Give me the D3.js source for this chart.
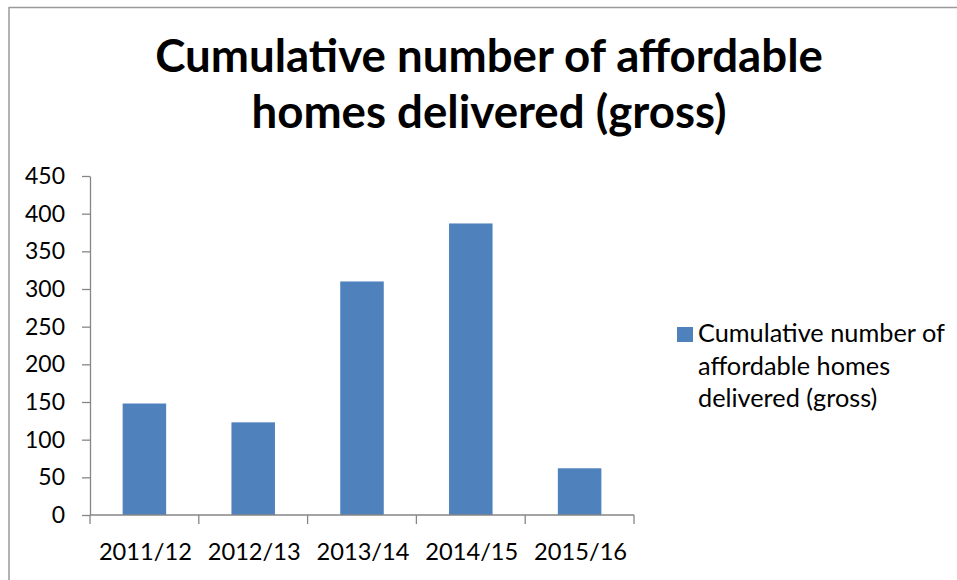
<!DOCTYPE html>
<html>
<head>
<meta charset="utf-8">
<script src="https://cdn.jsdelivr.net/npm/d3@7"></script>
<style>
  html, body { margin: 0; padding: 0; background: #fff; }
  svg { display: block; }
  text { font-family: Lato, "Open Sans", "Liberation Sans", sans-serif; fill: #000; }
</style>
</head>
<body>
<svg id="chart" width="957" height="580"></svg>
<script>
// Chart data
const titleLines = ["Cumulative number of affordable", "homes delivered (gross)"];
const categories = ["2011/12", "2012/13", "2013/14", "2014/15", "2015/16"];
const values = [148, 123, 310, 387, 62];
const yTicks = [0, 50, 100, 150, 200, 250, 300, 350, 400, 450];
const legendLines = ["Cumulative number of", "affordable homes", "delivered (gross)"];

const W = 957, H = 580;
const plot = { left: 90, right: 634, top: 176, bottom: 515 };
const barColor = "#4F81BD";
const axisColor = "#868686";

const svg = d3.select("#chart");

// Resize a text element's font so that its rendered width fits a target
function fitWidth(sel, target) {
  const node = sel.node();
  const fs = parseFloat(sel.attr("font-size"));
  const w = node.getComputedTextLength();
  const nfs = fs * target / w;
  return nfs;
}

// Outer frame: top and left edges of the chart area
svg.append("line").attr("x1", 9).attr("x2", W).attr("y1", 7.5).attr("y2", 7.5)
  .attr("stroke", "#9a9a9a").attr("stroke-width", 1.5);
svg.append("line").attr("x1", 9).attr("x2", 9).attr("y1", 7).attr("y2", H)
  .attr("stroke", "#9a9a9a").attr("stroke-width", 1.5);

const x = d3.scaleBand().domain(categories).range([plot.left, plot.right]).paddingInner(0.6).paddingOuter(0.3);
const y = d3.scaleLinear().domain([0, 450]).range([plot.bottom, plot.top]);

// Bars
svg.append("g").selectAll("rect").data(values).join("rect")
  .attr("x", (d, i) => x(categories[i]))
  .attr("width", x.bandwidth())
  .attr("y", d => y(d))
  .attr("height", d => y(0) - y(d))
  .attr("fill", barColor);

// Y axis
const yAxis = svg.append("g").attr("transform", `translate(${plot.left},0)`)
  .call(d3.axisLeft(y).tickValues(yTicks).tickSize(8).tickPadding(17).tickSizeOuter(0));
yAxis.select(".domain").attr("stroke", axisColor).attr("stroke-width", 1.3);
yAxis.selectAll(".tick line").attr("stroke", axisColor).attr("stroke-width", 1.3);
yAxis.selectAll("text").attr("font-size", 20).attr("font-family", null).attr("fill", "#000");

// X axis: ticks at category boundaries
const step = x.step();
const boundaries = d3.range(categories.length + 1).map(i => plot.left + i * step);
svg.append("line").attr("x1", plot.left).attr("x2", plot.right)
  .attr("y1", plot.bottom).attr("y2", plot.bottom)
  .attr("stroke", axisColor).attr("stroke-width", 1.3);
svg.append("g").selectAll("line").data(boundaries).join("line")
  .attr("x1", d => d).attr("x2", d => d)
  .attr("y1", plot.bottom).attr("y2", plot.bottom + 9)
  .attr("stroke", axisColor).attr("stroke-width", 1.3);
const xLabels = svg.append("g").selectAll("text").data(categories).join("text")
  .attr("x", d => x(d) + x.bandwidth() / 2 + 1)
  .attr("y", 560)
  .attr("text-anchor", "middle")
  .attr("font-size", 20)
  .text(d => d);

// Font sizing of tick labels
const xfs = fitWidth(d3.select(xLabels.nodes()[0]), 93);
xLabels.attr("font-size", xfs);
const yLabel450 = yAxis.selectAll(".tick text").filter(d => d === 450);
const yfs = fitWidth(yLabel450, 40);
yAxis.selectAll(".tick text").attr("font-size", yfs);

// Title
const title = svg.append("g").selectAll("text").data(titleLines).join("text")
  .attr("x", 489)
  .attr("y", (d, i) => 72 + i * 56)
  .attr("text-anchor", "middle")
  .attr("font-weight", "bold")
  .attr("font-size", 40)
  .text(d => d);
title.attr("font-size", fitWidth(d3.select(title.nodes()[0]), 668));

// Legend
const legend = svg.append("g");
legend.append("rect").attr("x", 677).attr("y", 327).attr("width", 16).attr("height", 15).attr("fill", barColor);
const legText = legend.selectAll("text").data(legendLines).join("text")
  .attr("x", 698)
  .attr("y", (d, i) => 342 + i * 32.5)
  .attr("font-size", 20)
  .text(d => d);
legText.attr("font-size", fitWidth(d3.select(legText.nodes()[0]), 247));
</script>
</body>
</html>
